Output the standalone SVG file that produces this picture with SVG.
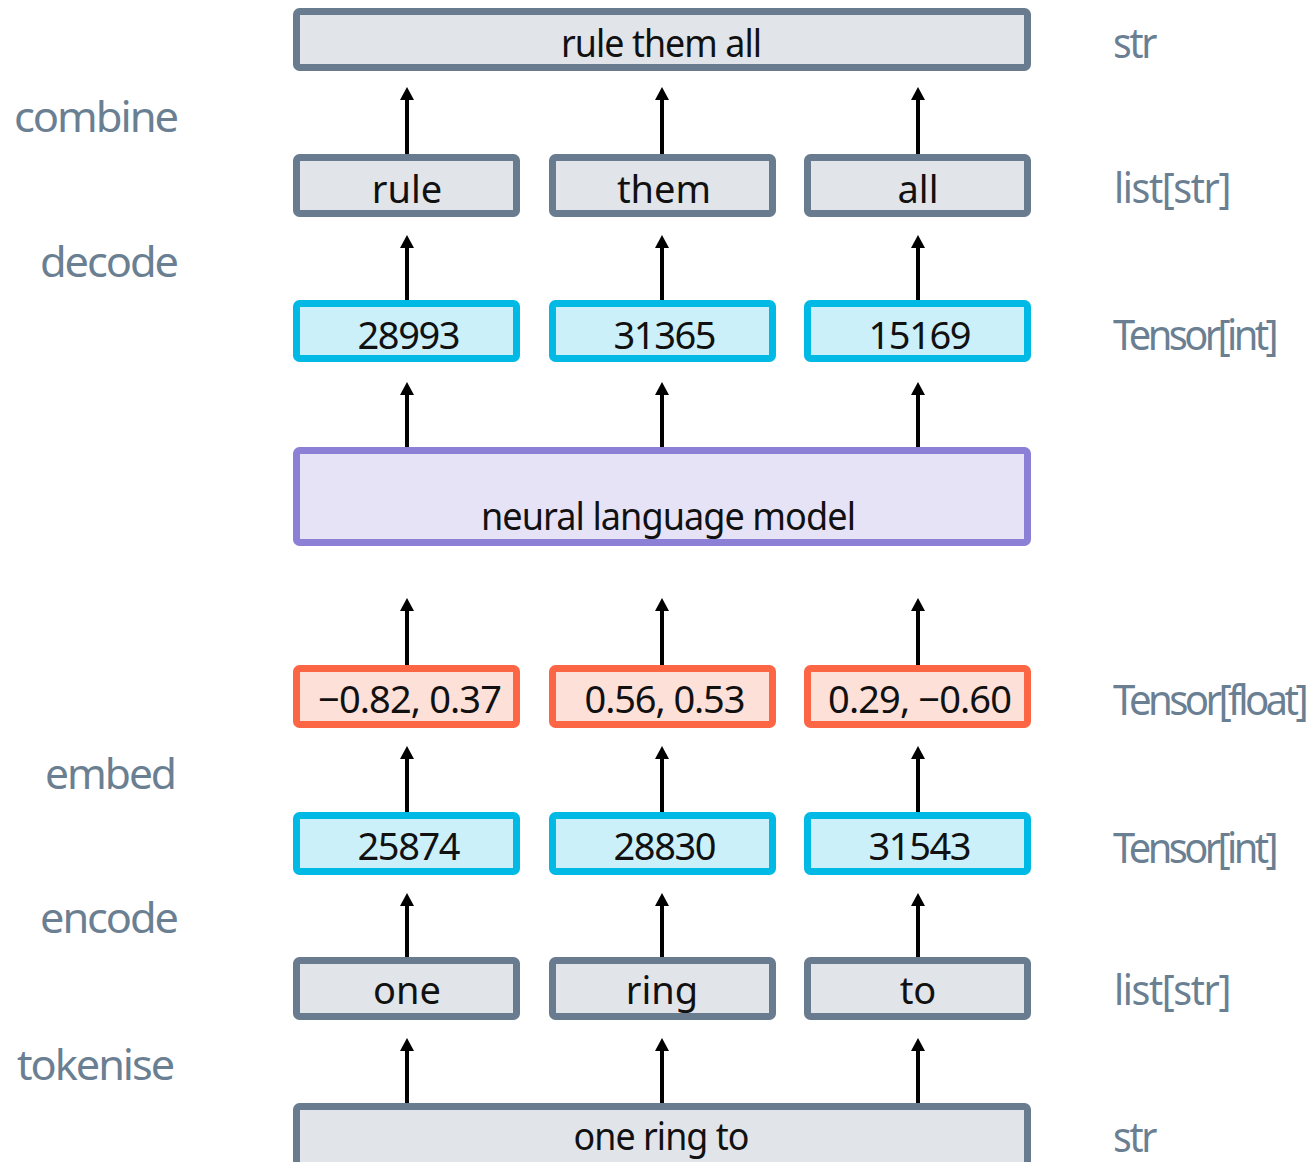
<svg xmlns="http://www.w3.org/2000/svg" width="1315" height="1162" viewBox="0 0 1315 1162">
<defs>
<style>
.g{fill:#e1e4e9;stroke:#687b8f;stroke-width:7}
.c{fill:#ccf0f9;stroke:#00b9e5;stroke-width:7}
.o{fill:#fde0d8;stroke:#fd6645;stroke-width:7}
.p{fill:#e7e3f6;stroke:#8b80d5;stroke-width:7}
.t{font-family:"Noto Sans","DejaVu Sans",sans-serif;font-size:38px;fill:#111;text-anchor:middle}
.l{font-family:"Noto Sans","DejaVu Sans",sans-serif;font-size:42px;fill:#6b7f93}
.a line{stroke:#000;stroke-width:4;fill:none;marker-end:url(#ah)}
</style>
<marker id="ah" markerUnits="userSpaceOnUse" markerWidth="13" markerHeight="14" viewBox="0 0 13 14" refX="0" refY="7" orient="auto">
<path d="M0,0 L13,7 L0,14 z" fill="#000"/>
</marker>
</defs>

<g id="top-str"><rect class="g" x="296.5" y="11.5" width="731" height="56" rx="3"/><text class="t" x="661" y="57" letter-spacing="-1" textLength="200" lengthAdjust="spacingAndGlyphs">rule them all</text></g>

<g id="w-rule"><rect class="g" x="296.5" y="157.5" width="220" height="56" rx="3"/><text class="t" x="407" y="203">rule</text></g>
<g id="w-them"><rect class="g" x="552.5" y="157.5" width="220" height="56" rx="3"/><text class="t" x="664" y="203">them</text></g>
<g id="w-all"><rect class="g" x="807.5" y="157.5" width="220" height="56" rx="3"/><text class="t" x="918" y="203">all</text></g>

<g id="o-28993"><rect class="c" x="296.5" y="303.5" width="220" height="55" rx="3"/><text class="t" x="409" y="349" textLength="103">28993</text></g>
<g id="o-31365"><rect class="c" x="552.5" y="303.5" width="220" height="55" rx="3"/><text class="t" x="665" y="349" textLength="103">31365</text></g>
<g id="o-15169"><rect class="c" x="807.5" y="303.5" width="220" height="55" rx="3"/><text class="t" x="920" y="349" textLength="103">15169</text></g>

<g id="nlm"><rect class="p" x="296.5" y="450.5" width="731" height="92" rx="3"/><text class="t" x="668" y="530" letter-spacing="-1" textLength="374" lengthAdjust="spacingAndGlyphs">neural language model</text></g>

<g id="e-1"><rect class="o" x="296.5" y="668.5" width="220" height="56" rx="3"/><text class="t" x="410" y="713" textLength="184">−0.82, 0.37</text></g>
<g id="e-2"><rect class="o" x="552.5" y="668.5" width="220" height="56" rx="3"/><text class="t" x="665" y="713" textLength="161">0.56, 0.53</text></g>
<g id="e-3"><rect class="o" x="807.5" y="668.5" width="220" height="56" rx="3"/><text class="t" x="920" y="713" textLength="184">0.29, −0.60</text></g>

<g id="i-25874"><rect class="c" x="296.5" y="815.5" width="220" height="56" rx="3"/><text class="t" x="409" y="860" textLength="103">25874</text></g>
<g id="i-28830"><rect class="c" x="552.5" y="815.5" width="220" height="56" rx="3"/><text class="t" x="665" y="860" textLength="103">28830</text></g>
<g id="i-31543"><rect class="c" x="807.5" y="815.5" width="220" height="56" rx="3"/><text class="t" x="920" y="860" textLength="103">31543</text></g>

<g id="t-one"><rect class="g" x="296.5" y="960.5" width="220" height="56" rx="3"/><text class="t" x="407" y="1004">one</text></g>
<g id="t-ring"><rect class="g" x="552.5" y="960.5" width="220" height="56" rx="3"/><text class="t" x="662" y="1004">ring</text></g>
<g id="t-to"><rect class="g" x="807.5" y="960.5" width="220" height="56" rx="3"/><text class="t" x="918" y="1004">to</text></g>

<g id="bottom-str"><rect class="g" x="296.5" y="1106.5" width="731" height="60" rx="3"/><text class="t" x="661" y="1150" letter-spacing="-1" textLength="175" lengthAdjust="spacingAndGlyphs">one ring to</text></g>

<g id="step-labels" class="l" text-anchor="end" letter-spacing="-2">
<text x="177" y="132" textLength="163" lengthAdjust="spacingAndGlyphs">combine</text>
<text x="177" y="277" textLength="137" lengthAdjust="spacingAndGlyphs">decode</text>
<text x="175" y="789" textLength="130" lengthAdjust="spacingAndGlyphs">embed</text>
<text x="177" y="933" textLength="137" lengthAdjust="spacingAndGlyphs">encode</text>
<text x="173" y="1080" textLength="156" lengthAdjust="spacingAndGlyphs">tokenise</text>
</g>

<g id="type-labels" class="l">
<text x="1113" y="58" letter-spacing="-2.5" textLength="42" lengthAdjust="spacingAndGlyphs">str</text>
<text x="1114" y="203" letter-spacing="-1.5" textLength="116" lengthAdjust="spacingAndGlyphs">list[str]</text>
<text x="1113" y="350" letter-spacing="-3.8" textLength="162" lengthAdjust="spacingAndGlyphs">Tensor[int]</text>
<text x="1113" y="715" letter-spacing="-3.8" textLength="192" lengthAdjust="spacingAndGlyphs">Tensor[float]</text>
<text x="1113" y="863" letter-spacing="-3.8" textLength="162" lengthAdjust="spacingAndGlyphs">Tensor[int]</text>
<text x="1114" y="1005" letter-spacing="-1.5" textLength="116" lengthAdjust="spacingAndGlyphs">list[str]</text>
<text x="1113" y="1152" letter-spacing="-2.5" textLength="42" lengthAdjust="spacingAndGlyphs">str</text>
</g>

<g id="connectors" class="a">
<line x1="407" y1="154" x2="407" y2="100"/><line x1="662" y1="154" x2="662" y2="100"/><line x1="918" y1="154" x2="918" y2="100"/>
<line x1="407" y1="300" x2="407" y2="248"/><line x1="662" y1="300" x2="662" y2="248"/><line x1="918" y1="300" x2="918" y2="248"/>
<line x1="407" y1="447" x2="407" y2="395"/><line x1="662" y1="447" x2="662" y2="395"/><line x1="918" y1="447" x2="918" y2="395"/>
<line x1="407" y1="665" x2="407" y2="611"/><line x1="662" y1="665" x2="662" y2="611"/><line x1="918" y1="665" x2="918" y2="611"/>
<line x1="407" y1="812" x2="407" y2="759"/><line x1="662" y1="812" x2="662" y2="759"/><line x1="918" y1="812" x2="918" y2="759"/>
<line x1="407" y1="957" x2="407" y2="906"/><line x1="662" y1="957" x2="662" y2="906"/><line x1="918" y1="957" x2="918" y2="906"/>
<line x1="407" y1="1103" x2="407" y2="1051"/><line x1="662" y1="1103" x2="662" y2="1051"/><line x1="918" y1="1103" x2="918" y2="1051"/>
</g>
</svg>
